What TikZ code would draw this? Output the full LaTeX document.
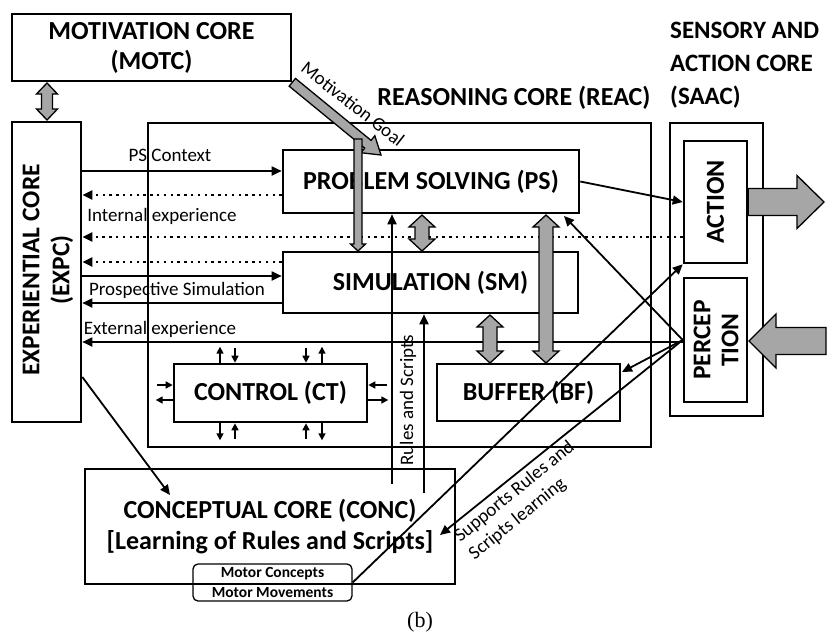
\documentclass[tikz,border=0pt]{standalone}
\usepackage{fontspec}
\setmainfont{Carlito}
\newfontfamily\capfont{Liberation Serif}
\usetikzlibrary{arrows.meta,calc}
\definecolor{agray}{RGB}{166,166,166}
\tikzset{
  box/.style={draw, line width=2.6pt, rectangle, inner sep=0pt},
  bigfont/.style={font=\fontsize{26}{30}\selectfont\bfseries},
  lbl/.style={font=\fontsize{19}{23}\selectfont, inner sep=0pt},
  conn/.style={line width=1.8pt, -{Triangle[length=10pt,width=9pt]}},
  dotconn/.style={line width=2.3pt, dash pattern=on 2.3pt off 4.5pt, -{Triangle[length=10pt,width=9pt]}},
  smallarr/.style={line width=1.6pt, -{Triangle[length=7pt,width=7pt]}},
  garrow/.style={draw=black, line width=1.3pt, fill=agray, line join=miter},
}
% single block arrow: from #1 to #2, shaft half width #3, head half width #4, head length #5
\newcommand\garrowS[5]{%
  \coordinate (gaC) at ($(#2)!#5!(#1)$);
  \draw[garrow] ($(#1)!#3!90:(#2)$) -- ($(gaC)!#3!90:(#2)$) -- ($(gaC)!#4!90:(#2)$) -- (#2)
    -- ($(gaC)!#4!-90:(#2)$) -- ($(gaC)!#3!-90:(#2)$) -- ($(#1)!#3!-90:(#2)$) -- cycle;
}
% double block arrow
\newcommand\garrowD[5]{%
  \coordinate (gaC1) at ($(#1)!#5!(#2)$);
  \coordinate (gaC2) at ($(#2)!#5!(#1)$);
  \draw[garrow] (#1) -- ($(gaC1)!#4!90:(#2)$) -- ($(gaC1)!#3!90:(#2)$) -- ($(gaC2)!#3!90:(#2)$)
    -- ($(gaC2)!#4!90:(#2)$) -- (#2) -- ($(gaC2)!#4!-90:(#2)$) -- ($(gaC2)!#3!-90:(#2)$)
    -- ($(gaC1)!#3!-90:(#2)$) -- ($(gaC1)!#4!-90:(#2)$) -- cycle;
}
\begin{document}
\begin{tikzpicture}[x=1pt,y=-1pt]
\useasboundingbox (0,0) rectangle (831,635);

% ---------- boxes ----------
\node[box, minimum width=279pt, minimum height=67pt, align=center, bigfont] (motc) at (151.5,47.5) {MOTIVATION CORE\\(MOTC)};
\node[box, minimum width=69pt, minimum height=300pt] (expc) at (46.5,272) {};
\node[font=\fontsize{25.5}{30}\selectfont\bfseries, rotate=90, align=center, inner sep=0pt] (expct) at (48,270) {EXPERIENTIAL CORE\\(EXPC)};
\node[box, minimum width=503pt, minimum height=324pt] (reac) at (399.5,285) {};
\node[bigfont, inner sep=0pt] (react) at (514,98) {REASONING CORE (REAC)};
\node[box, minimum width=93pt, minimum height=293pt] (saac) at (716.5,269.5) {};
\node[font=\fontsize{25}{33}\selectfont\bfseries, align=left, anchor=west, inner sep=0pt] (saact) at (670,65) {SENSORY AND\\ACTION CORE\\(SAAC)};
\node[box, minimum width=63pt, minimum height=122pt] (action) at (715.5,202) {};
\node[bigfont, rotate=90, inner sep=0pt] (actiont) at (715.5,202) {ACTION};
\node[box, minimum width=63pt, minimum height=124pt] (percep) at (715.5,340) {};
\node[font=\fontsize{25.5}{28}\selectfont\bfseries, rotate=90, align=center, inner sep=0pt] (percept) at (716,340) {PERCEP\\TION};
\node[box, minimum width=296pt, minimum height=63pt, bigfont] (ps) at (431,181.5) {PROBLEM SOLVING (PS)};
\node[box, minimum width=295pt, minimum height=61pt, bigfont] (sm) at (430.5,282.5) {SIMULATION (SM)};
\node[box, minimum width=193pt, minimum height=58pt, bigfont] (ct) at (270.5,393) {CONTROL (CT)};
\node[box, minimum width=183pt, minimum height=57pt, bigfont] (bf) at (528.5,392.5) {BUFFER (BF)};
\node[draw, line width=1.3pt, rounded corners=5pt, minimum width=159pt, minimum height=37pt] (motor) at (272.5,582.5) {};
\node[box, minimum width=370pt, minimum height=115pt, align=center, font=\fontsize{26}{31}\selectfont\bfseries] (conc) at (270,526.5) {CONCEPTUAL CORE (CONC)\\{}[Learning of Rules and Scripts]};
\node[font=\fontsize{15.5}{17}\selectfont\bfseries, inner sep=0pt] (mcon) at (272.5,574) {Motor Concepts};
\node[font=\fontsize{15.5}{17}\selectfont\bfseries, inner sep=0pt] (mmov) at (272.5,593) {Motor Movements};
\node[font=\capfont\fontsize{22}{24}\selectfont, inner sep=0pt] (cap) at (420,622) {(b)};

% ---------- named points ----------
\coordinate (concin) at (170,495);
\coordinate (mgtip) at (381,155);
\coordinate (thintop) at (358,139);
\coordinate (psin) at (564,216);
\coordinate (bfin) at (622,372);
\coordinate (concin2) at (440,535);
\coordinate (rs1) at (392,484);
\coordinate (rs2) at (424,493);
\coordinate (g1a) at (47,83);
\coordinate (g1b) at (47,120);
\coordinate (g2a) at (422,215);
\coordinate (g2b) at (422,251);
\coordinate (g3a) at (490,315);
\coordinate (g3b) at (490,363);
\coordinate (g4a) at (546,215);
\coordinate (g4b) at (546,363);
\coordinate (thinbot) at (358,251);
\coordinate (actout) at (824,202);
\coordinate (percin0) at (826,341);
\coordinate (percin1) at (749,341);

% ---------- connectors EXPC <-> REAC ----------
\draw[conn] (expc.east |- 0,171) -- (ps.west |- 0,171);
\draw[dotconn] (ps.west |- 0,195) -- (expc.east |- 0,195);
\draw[dotconn] (action.west |- 0,237) -- (expc.east |- 0,237);
\draw[dotconn] (sm.west |- 0,262) -- (expc.east |- 0,262);
\draw[conn] (expc.east |- 0,276) -- (sm.west |- 0,276);
\draw[conn] (sm.west |- 0,303) -- (expc.east |- 0,303);
\draw[conn] (percep.west |- 0,342) -- (expc.east |- 0,342);
\draw[conn] (expc.east |- 0,377) -- (concin);

\node[lbl] (lpsc) at (170,155) {PS Context};
\node[lbl] (lint) at (162,216) {Internal experience};
\node[lbl] (lpro) at (177,290) {Prospective Simulation};
\node[lbl] (lext) at (160,329) {External experience};

% ---------- rules and scripts ----------
\draw[conn] (rs1) -- (ps.south -| rs1);
\draw[conn] (rs2) -- (sm.south -| rs2);
\node[lbl, rotate=90] (lrs) at (408,400) {Rules and Scripts};

% ---------- SAAC connectors ----------
\draw[conn] (ps.east) -- (action.west);
\draw[conn] (percep.west) -- (psin);
\draw[conn] (percep.west) -- (bfin);
\draw[conn] (percep.west) -- (concin2);
\draw[conn] (motor.east) -- (action.south west);
\node[lbl, rotate=39, align=left] (lsup) at (522,501) {Supports Rules and\\Scripts learning};

% ---------- control stubs ----------
\draw[smallarr] (ct.north -| 220,0) -- ++(0,-16);
\draw[smallarr] (235,348) -- (ct.north -| 235,0);
\draw[smallarr] (306,348) -- (ct.north -| 306,0);
\draw[smallarr] (ct.north -| 322,0) -- ++(0,-16);
\draw[smallarr] (ct.south -| 220,0) -- ++(0,17);
\draw[smallarr] (235,439) -- (ct.south -| 235,0);
\draw[smallarr] (306,439) -- (ct.south -| 306,0);
\draw[smallarr] (ct.south -| 322,0) -- ++(0,17);
\draw[smallarr] (157,385) -- (ct.west |- 0,385);
\draw[smallarr] (ct.west |- 0,400) -- ++(-17,0);
\draw[smallarr] (387,385) -- (ct.east |- 0,385);
\draw[smallarr] (ct.east |- 0,400) -- ++(20,0);

% ---------- grey block arrows ----------
\garrowD{g1a}{g1b}{5.5pt}{10.5pt}{11pt}
\garrowS{motc.south east}{mgtip}{5pt}{11pt}{17pt}
\node[lbl, rotate=-38] (lmg) at (353,104) {Motivation Goal};
\garrowS{thintop}{thinbot}{4pt}{7.5pt}{7pt}
\garrowD{g2a}{g2b}{7pt}{13pt}{12pt}
\garrowD{g3a}{g3b}{7pt}{13pt}{12pt}
\garrowD{g4a}{g4b}{7pt}{13pt}{12pt}
\garrowS{action.east}{actout}{13.5pt}{26.5pt}{27pt}
\garrowS{percin0}{percin1}{13.5pt}{27pt}{27pt}
\end{tikzpicture}
\end{document}
